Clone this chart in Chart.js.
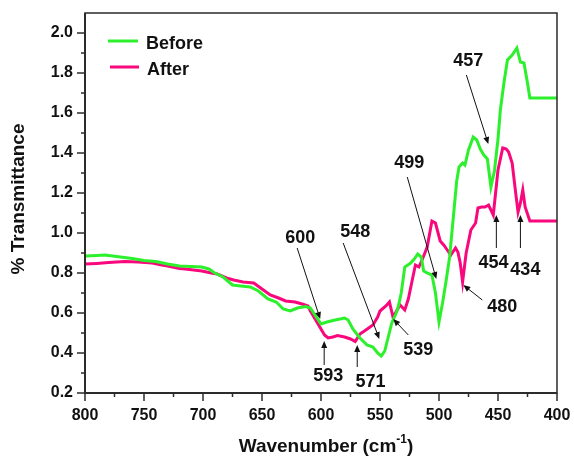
<!DOCTYPE html>
<html>
<head>
<meta charset="utf-8">
<script src="https://cdn.jsdelivr.net/npm/chart.js@4.4.0/dist/chart.umd.min.js"></script>
<style>
  html, body { margin: 0; padding: 0; background: #fff; }
</style>
</head>
<body>
<canvas id="chartFtir" width="574" height="458"></canvas>
<script>
// FTIR spectra (wavenumber in cm-1, transmittance)
const beforeWavenumber = [800, 790, 783, 770, 760, 750, 740, 730, 720, 710, 701, 695, 690, 683, 675, 668, 660, 653, 645, 638,
  632, 626, 620, 613, 609, 604, 600, 595, 588, 580, 577, 573, 567, 561, 556, 552, 549, 546, 543, 540, 537, 535, 532, 529,
  524, 521, 518, 515, 513, 510, 506, 503, 500, 497, 494, 491, 488, 485, 483, 480, 478, 475, 471, 468, 465, 462, 459, 456,
  453, 450, 448, 445, 442, 438, 434, 431, 428, 425, 423, 400];
const beforeTransmittance = [0.885, 0.888, 0.89, 0.88, 0.872, 0.862, 0.857, 0.845, 0.835, 0.833, 0.83, 0.82, 0.80, 0.78, 0.74, 0.735, 0.73, 0.71, 0.67, 0.655,
  0.62, 0.61, 0.625, 0.632, 0.625, 0.58, 0.545, 0.555, 0.565, 0.575, 0.565, 0.52, 0.475, 0.44, 0.43, 0.40, 0.385, 0.41, 0.48, 0.55, 0.59, 0.62, 0.70, 0.83,
  0.85, 0.87, 0.895, 0.88, 0.81, 0.80, 0.79, 0.70, 0.555, 0.65, 0.76, 0.88, 1.07, 1.26, 1.33, 1.35, 1.34, 1.415, 1.48, 1.465, 1.42, 1.39, 1.37, 1.23,
  1.31, 1.47, 1.615, 1.75, 1.865, 1.89, 1.925, 1.855, 1.85, 1.75, 1.675, 1.675];

const afterWavenumber = [800, 790, 780, 766, 755, 743, 735, 730, 720, 715, 701, 693, 688, 680, 674, 666, 657, 650, 643, 636,
  630, 622, 616, 611, 609, 604, 601, 597, 594, 590, 586, 580, 575, 571, 567, 562, 556, 552, 550, 545, 542, 539, 536, 533,
  529, 526, 523, 520, 517, 514, 510, 506, 503, 499, 496, 493, 490, 486, 484, 482, 480, 477, 473, 469, 467, 464, 461, 458,
  454, 450, 446, 443, 441, 438, 435, 433, 431, 429, 427, 423, 400];
const afterTransmittance = [0.845, 0.848, 0.852, 0.857, 0.855, 0.85, 0.84, 0.835, 0.822, 0.82, 0.81, 0.80, 0.795, 0.775, 0.765, 0.755, 0.75, 0.72, 0.69, 0.675,
  0.66, 0.655, 0.645, 0.635, 0.61, 0.56, 0.53, 0.49, 0.475, 0.48, 0.487, 0.48, 0.47, 0.457, 0.495, 0.515, 0.54, 0.58, 0.61, 0.635, 0.655, 0.58, 0.61, 0.64,
  0.615, 0.67, 0.755, 0.84, 0.83, 0.87, 0.93, 1.06, 1.05, 0.96, 0.94, 0.915, 0.89, 0.925, 0.905, 0.85, 0.755, 0.90, 1.015, 1.05, 1.125, 1.13, 1.13, 1.14,
  1.09, 1.315, 1.425, 1.42, 1.405, 1.35, 1.20, 1.105, 1.15, 1.215, 1.13, 1.06, 1.06];

const seriesNames = ['Before', 'After'];
const peakLabels = ['600', '548', '499', '457', '593', '571', '539', '480', '454', '434'];

// where each peak label sits and where its arrow points, in axis units [wavenumber, transmittance]
const peakPlacement = [
  { text: [617.6, 0.975], tail: [620.2, 0.925], head: [600.7, 0.57] },
  { text: [571.0, 1.005], tail: [581.2, 0.95], head: [550.6, 0.47] },
  { text: [525.2, 1.35], tail: [526.9, 1.28], head: [502.3, 0.77] },
  { text: [475.2, 1.86], tail: [476.8, 1.79], head: [458.2, 1.445] },
  { text: [593.9, 0.285], tail: [597.3, 0.34], head: [597.3, 0.46] },
  { text: [558.0, 0.255], tail: [569.3, 0.33], head: [569.3, 0.44] },
  { text: [517.6, 0.415], tail: [526.0, 0.49], head: [538.8, 0.57] },
  { text: [446.3, 0.63], tail: [463.3, 0.665], head: [479.4, 0.74] },
  { text: [453.9, 0.85], tail: [451.4, 0.925], head: [451.4, 1.09] },
  { text: [426.8, 0.815], tail: [431.0, 0.925], head: [431.0, 1.09] }
];

const FONT = "'Liberation Sans', Arial, Helvetica, sans-serif";
const AXIS_COLOR = '#2b2b2b';
const colors = ['#2cf02c', '#f8087c'];

const toPoints = (xs, ys) => xs.map((x, i) => ({ x, y: ys[i] }));

const noOverflow = s => {
  s.paddingLeft = 0;
  s.paddingRight = 0;
  s.paddingTop = 0;
  s.paddingBottom = 0;
};

const drawArrow = (ctx, x1, y1, x2, y2) => {
  const ang = Math.atan2(y2 - y1, x2 - x1);
  const len = 7, half = 3;
  ctx.beginPath();
  ctx.moveTo(x1, y1);
  ctx.lineTo(x2 - Math.cos(ang) * len * 0.8, y2 - Math.sin(ang) * len * 0.8);
  ctx.stroke();
  ctx.beginPath();
  ctx.moveTo(x2, y2);
  ctx.lineTo(x2 - Math.cos(ang) * len - Math.sin(ang) * half, y2 - Math.sin(ang) * len + Math.cos(ang) * half);
  ctx.lineTo(x2 - Math.cos(ang) * len + Math.sin(ang) * half, y2 - Math.sin(ang) * len - Math.cos(ang) * half);
  ctx.closePath();
  ctx.fill();
};

const decorPlugin = {
  id: 'decor',
  afterDraw(chart) {
    const { ctx, chartArea: a, scales: { x, y } } = chart;
    ctx.save();

    // frame
    ctx.strokeStyle = AXIS_COLOR;
    ctx.lineWidth = 1.5;
    ctx.strokeRect(a.left, a.top, a.right - a.left, a.bottom - a.top);
    ctx.lineWidth = 2;
    ctx.beginPath();
    ctx.moveTo(a.left, a.top);
    ctx.lineTo(a.left, a.bottom);
    ctx.lineTo(a.right, a.bottom);
    ctx.stroke();

    // tick marks, long on labelled ticks
    ctx.lineWidth = 1.5;
    x.ticks.forEach(t => {
      const px = x.getPixelForValue(t.value);
      const len = t.value % 50 === 0 ? 8 : 4;
      ctx.beginPath();
      ctx.moveTo(px, a.bottom);
      ctx.lineTo(px, a.bottom + len);
      ctx.stroke();
    });
    y.ticks.forEach(t => {
      const k = Math.round(t.value * 10);
      if (k > 20) return;
      const py = y.getPixelForValue(t.value);
      const len = k % 2 === 0 ? 8 : 4;
      ctx.beginPath();
      ctx.moveTo(a.left - len, py);
      ctx.lineTo(a.left, py);
      ctx.stroke();
    });

    // legend
    ctx.font = 'bold 18px ' + FONT;
    ctx.textBaseline = 'middle';
    ctx.textAlign = 'left';
    chart.data.datasets.forEach((ds, i) => {
      const ly = a.top + 30 + i * 26;
      ctx.strokeStyle = ds.borderColor;
      ctx.lineWidth = 3;
      ctx.beginPath();
      ctx.moveTo(a.left + 23 + i * 2, ly - 2);
      ctx.lineTo(a.left + 53 + i * 1, ly - 2);
      ctx.stroke();
      ctx.fillStyle = '#111';
      ctx.fillText(ds.label, a.left + 61 + i, ly + 1);
    });

    // peak annotations
    ctx.strokeStyle = '#111';
    ctx.fillStyle = '#111';
    ctx.lineWidth = 1;
    ctx.textAlign = 'center';
    peakLabels.forEach((label, i) => {
      const p = peakPlacement[i];
      ctx.fillText(label, x.getPixelForValue(p.text[0]), y.getPixelForValue(p.text[1]));
      drawArrow(ctx,
        x.getPixelForValue(p.tail[0]), y.getPixelForValue(p.tail[1]),
        x.getPixelForValue(p.head[0]), y.getPixelForValue(p.head[1]));
    });

    // axis titles
    ctx.fillStyle = '#111';
    ctx.font = 'bold 19px ' + FONT;
    const main = 'Wavenumber (cm', sup = '-1', close = ')';
    const w1 = ctx.measureText(main).width;
    const w3 = ctx.measureText(close).width;
    ctx.font = 'bold 12px ' + FONT;
    const w2 = ctx.measureText(sup).width;
    const cx = (a.left + a.right) / 2 + 5;
    const ty = 447;
    let sx = cx - (w1 + w2 + w3) / 2;
    ctx.textAlign = 'left';
    ctx.font = 'bold 19px ' + FONT;
    ctx.fillText(main, sx, ty);
    ctx.font = 'bold 12px ' + FONT;
    ctx.fillText(sup, sx + w1, ty - 7);
    ctx.font = 'bold 19px ' + FONT;
    ctx.fillText(close, sx + w1 + w2, ty);

    ctx.translate(19, 199);
    ctx.rotate(-Math.PI / 2);
    ctx.textAlign = 'center';
    ctx.fillText('% Transmittance', 0, 0);

    ctx.restore();
  }
};

const context = document.getElementById('chartFtir').getContext('2d');
const chart = new Chart(context, {
  type: 'line',
  data: {
    datasets: [
      {
        label: seriesNames[0],
        data: toPoints(beforeWavenumber, beforeTransmittance),
        borderColor: colors[0],
        borderWidth: 3,
        pointRadius: 0,
        tension: 0
      },
      {
        label: seriesNames[1],
        data: toPoints(afterWavenumber, afterTransmittance),
        borderColor: colors[1],
        borderWidth: 3,
        pointRadius: 0,
        tension: 0
      }
    ]
  },
  options: {
    responsive: false,
    animation: false,
    devicePixelRatio: 1,
    layout: { padding: { top: 13, right: 17, left: 0, bottom: 0 } },
    plugins: { legend: { display: false }, tooltip: { enabled: false } },
    scales: {
      x: {
        type: 'linear',
        reverse: true,
        min: 400,
        max: 800,
        grid: { display: false, drawTicks: false },
        border: { display: false },
        ticks: {
          stepSize: 25,
          autoSkip: false,
          maxRotation: 0,
          padding: 13,
          color: '#111',
          font: { family: FONT, size: 16, weight: 'bold' },
          callback: v => (v % 50 === 0 ? String(v) : '')
        },
        afterFit: s => { s.height = 65; noOverflow(s); }
      },
      y: {
        min: 0.2,
        max: 2.1,
        grid: { display: false, drawTicks: false },
        border: { display: false },
        ticks: {
          stepSize: 0.1,
          autoSkip: false,
          padding: 12,
          color: '#111',
          font: { family: FONT, size: 16, weight: 'bold' },
          callback: v => {
            const k = Math.round(v * 10);
            return k % 2 === 0 && k <= 20 ? (k / 10).toFixed(1) : '';
          }
        },
        afterFit: s => { s.width = 85; noOverflow(s); }
      }
    }
  },
  plugins: [decorPlugin]
});
</script>
</body>
</html>
